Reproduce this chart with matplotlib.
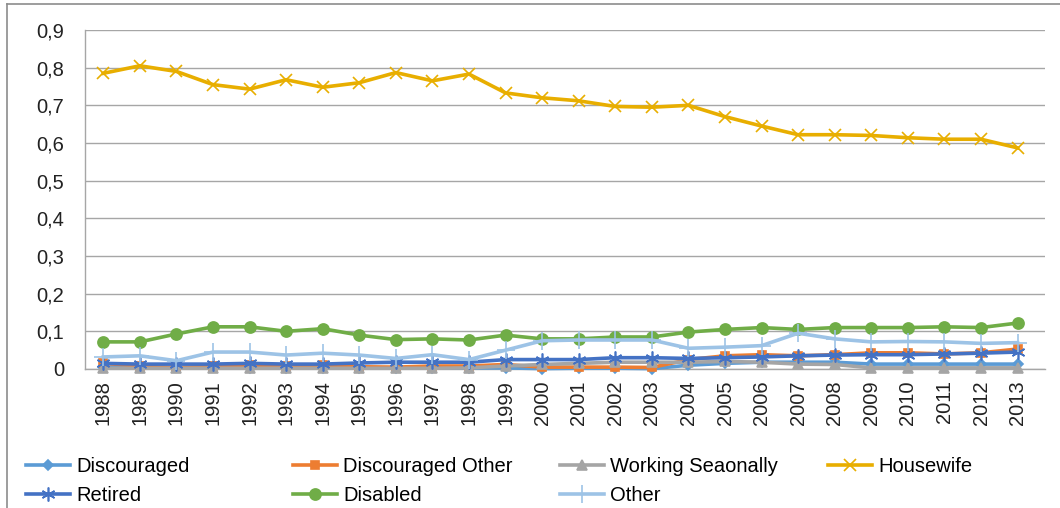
import matplotlib
matplotlib.use("Agg")
import matplotlib.pyplot as plt
from matplotlib.lines import Line2D

plt.rcParams['font.family'] = ['Liberation Sans Narrow', 'Liberation Sans', 'DejaVu Sans']

years = list(range(1988, 2014))

discouraged = [0.005, 0.004, 0.004, 0.004, 0.003, 0.003, 0.003, 0.003, 0.003, 0.003, 0.003, 0.003,
               0.001, 0.002, 0.002, 0.001, 0.010, 0.015, 0.018, 0.018, 0.018, 0.013, 0.013, 0.013,
               0.013, 0.013]
discouraged_other = [0.015, 0.008, 0.003, 0.008, 0.010, 0.008, 0.010, 0.006, 0.005, 0.008, 0.008, 0.012,
                     0.005, 0.005, 0.005, 0.004, 0.025, 0.035, 0.038, 0.035, 0.038, 0.043, 0.043, 0.040,
                     0.043, 0.053]
working_seasonally = [0.002, 0.002, 0.002, 0.002, 0.002, 0.002, 0.002, 0.002, 0.002, 0.002, 0.003, 0.008,
                      0.012, 0.015, 0.018, 0.018, 0.018, 0.020, 0.018, 0.013, 0.012, 0.003, 0.003, 0.003,
                      0.003, 0.003]
housewife = [0.785, 0.805, 0.790, 0.755, 0.743, 0.768, 0.748, 0.760, 0.787, 0.765, 0.783, 0.733,
             0.720, 0.712, 0.697, 0.695, 0.700, 0.670, 0.645, 0.622, 0.622, 0.620, 0.614, 0.610,
             0.610, 0.587]
retired = [0.015, 0.013, 0.013, 0.013, 0.015, 0.013, 0.013, 0.016, 0.018, 0.018, 0.018, 0.025,
           0.025, 0.025, 0.030, 0.030, 0.028, 0.030, 0.032, 0.035, 0.037, 0.038, 0.038, 0.040,
           0.042, 0.045]
disabled = [0.072, 0.072, 0.093, 0.112, 0.112, 0.100, 0.107, 0.090, 0.078, 0.080, 0.077, 0.090,
            0.080, 0.080, 0.085, 0.085, 0.098, 0.105, 0.110, 0.105, 0.110, 0.110, 0.110, 0.112,
            0.110, 0.122]
other = [0.032, 0.035, 0.022, 0.045, 0.045, 0.037, 0.042, 0.037, 0.028, 0.038, 0.025, 0.050,
         0.075, 0.077, 0.077, 0.077, 0.055, 0.058, 0.062, 0.095, 0.080, 0.072, 0.073, 0.072,
         0.068, 0.070]

yticks = [0, 0.1, 0.2, 0.3, 0.4, 0.5, 0.6, 0.7, 0.8, 0.9]
ytick_labels = ['0', '0,1', '0,2', '0,3', '0,4', '0,5', '0,6', '0,7', '0,8', '0,9']

series = [
    ('Discouraged', discouraged, '#5B9BD5', 'D', 5),
    ('Discouraged Other', discouraged_other, '#ED7D31', 's', 6),
    ('Working Seaonally', working_seasonally, '#A5A5A5', '^', 7),
    ('Housewife', housewife, '#E8AE00', 'x', 9),
    ('Retired', retired, '#4472C4', (6, 2, 0), 10),
    ('Disabled', disabled, '#70AD47', 'o', 8),
    ('Other', other, '#9DC3E6', '+', 13),
]

fig = plt.figure(figsize=(10.6, 5.08), dpi=100)
ax = fig.add_axes([85 / 1060, 1 - 369 / 508, 960 / 1060, 339 / 508])

x = list(range(len(years)))
handles = {}
for name, vals, col, mk, ms in series:
    ln, = ax.plot(x, vals, color=col, lw=2.6, marker=mk, markersize=ms,
                  markeredgewidth=1.2, markerfacecolor=col, markeredgecolor=col,
                  solid_joinstyle='round', clip_on=False, zorder=3)
    handles[name] = ln

ax.set_ylim(0, 0.9)
ax.set_xlim(-0.5, len(years) - 0.25)
ax.set_yticks(yticks)
ax.set_yticklabels(ytick_labels, fontsize=14.5)
ax.set_xticks(x)
ax.set_xticklabels([str(y) for y in years], rotation=90, fontsize=14.5)
ax.tick_params(axis='both', length=0, colors='#222222')
ax.tick_params(axis='y', pad=15)
ax.tick_params(axis='x', pad=8)
ax.grid(axis='y', color='#A6A6A6', lw=1.0)
ax.set_axisbelow(True)
for s in ['top', 'right']:
    ax.spines[s].set_visible(False)
for s in ['left', 'bottom']:
    ax.spines[s].set_color('#A6A6A6')
    ax.spines[s].set_linewidth(1.0)

# chart border
fig.add_artist(Line2D([7 / 1060, 7 / 1060], [0, 1 - 4 / 508], color='#8C8C8C', lw=1.2))
fig.add_artist(Line2D([7 / 1060, 1], [1 - 4 / 508, 1 - 4 / 508], color='#8C8C8C', lw=1.2))

# legend in four columns
columns = [['Discouraged', 'Retired'], ['Discouraged Other', 'Disabled'],
           ['Working Seaonally', 'Other'], ['Housewife']]
col_x = [26, 293, 560, 828]
for names, cx in zip(columns, col_x):
    leg = fig.legend([handles[n] for n in names], names, loc='upper left',
                     bbox_to_anchor=(cx / 1060, 1 - 457 / 508), frameon=False,
                     fontsize=14.5, handlelength=2.2, handletextpad=0.3,
                     labelspacing=0.5, borderpad=0, borderaxespad=0)

fig.savefig('out.png', dpi=100)
